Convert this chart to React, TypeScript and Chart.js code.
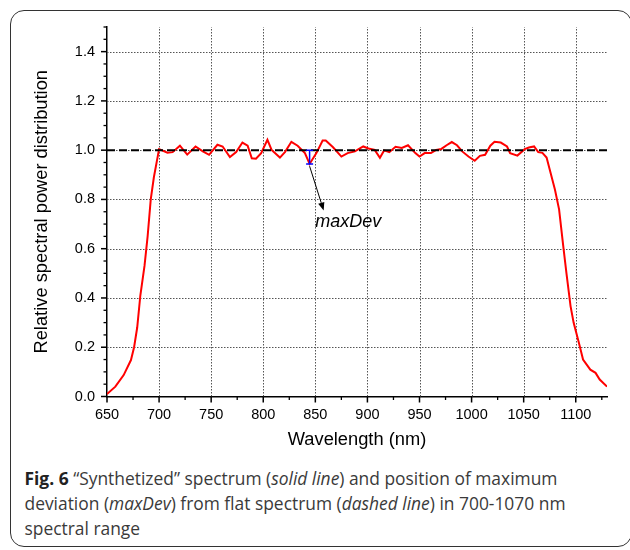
import React, { useEffect, useRef } from "react";
import { Chart, registerables } from "chart.js";

Chart.register(...registerables);

// ---- data ----
const wavelengths = [
  650, 658, 666, 673, 676, 679, 682, 686, 689, 692, 695, 700,
  708, 713, 720, 727, 735, 742, 748, 756, 761, 768, 774, 780, 785, 789, 793, 798,
  804, 808, 816, 821, 827, 833, 840, 844.5, 851, 857, 860, 867, 875, 881, 888, 896,
  901, 907, 912, 916, 921, 927, 933, 939, 946, 950, 955, 961, 966, 971, 976, 981,
  986, 991, 997, 1003, 1008, 1013, 1018, 1022, 1028, 1034, 1037, 1044, 1051, 1055,
  1060, 1064, 1068, 1072, 1075, 1080, 1084, 1088, 1091, 1095, 1098, 1103, 1107,
  1114, 1119, 1123, 1130,
];
const spectrum = [
  0.01, 0.04, 0.087, 0.148, 0.2, 0.28, 0.41, 0.53, 0.65, 0.8, 0.89, 1.004,
  0.99, 0.992, 1.018, 0.982, 1.015, 0.995, 0.981, 1.022, 1.015, 0.972, 0.992, 1.031, 1.018, 0.967, 0.965, 0.988,
  1.042, 1.001, 0.97, 0.993, 1.034, 1.018, 0.988, 0.944, 0.988, 1.039, 1.039, 1.012, 0.974, 0.988, 0.995, 1.015,
  1.007, 1.001, 0.969, 0.999, 0.992, 1.014, 1.009, 1.02, 0.988, 0.974, 0.988, 0.988, 1.001, 1.005, 1.02, 1.033,
  1.02, 0.995, 0.974, 0.957, 0.977, 0.981, 1.018, 1.034, 1.031, 1.015, 0.988, 0.978, 1.004, 1.011,
  1.015, 0.992, 0.989, 0.97, 0.922, 0.84, 0.76, 0.61, 0.503, 0.367, 0.299, 0.218, 0.15,
  0.109, 0.096, 0.069, 0.04,
];
const flatWavelengths = [650, 1130];
const flatLevel = [1.0, 1.0];
const maxDevWavelength = [844.5, 844.5];
const maxDevValues = [1.0, 0.944];
const arrowFrom = [844.5, 0.935];
const arrowTo = [858, 0.755];
const maxDevLabel = "maxDev";
const maxDevLabelAt = [881.5, 0.689];

const xMajorTicks = [650, 700, 750, 800, 850, 900, 950, 1000, 1050, 1100];
const xMinorTicks = [675, 725, 775, 825, 875, 925, 975, 1025, 1075, 1125];
const yMajorTicks = [0, 0.2, 0.4, 0.6, 0.8, 1.0, 1.2, 1.4];
const yMinorTicks = [
  0.05, 0.1, 0.15, 0.25, 0.3, 0.35, 0.45, 0.5, 0.55, 0.65, 0.7, 0.75, 0.85, 0.9, 0.95,
  1.05, 1.1, 1.15, 1.25, 1.3, 1.35, 1.45, 1.5,
];

const X_TITLE = "Wavelength (nm)";
const Y_TITLE = "Relative spectral power distribution";

const FONT = "'Liberation Sans', Arial, sans-serif";

const gridPlugin = {
  id: "dottedGrid",
  beforeDatasetsDraw(chart: any) {
    const { ctx, scales, chartArea } = chart;
    const xs = scales.x;
    const ys = scales.y;
    ctx.save();
    ctx.strokeStyle = "#555555";
    ctx.lineWidth = 1;
    ctx.setLineDash([1.5, 1.5]);
    for (const v of xMajorTicks) {
      if (v === xs.min) continue;
      const px = Math.round(xs.getPixelForValue(v)) + 0.5;
      ctx.beginPath();
      ctx.moveTo(px, chartArea.bottom);
      ctx.lineTo(px, chartArea.top);
      ctx.stroke();
    }
    for (const v of yMajorTicks) {
      if (v === ys.min) continue;
      const py = Math.round(ys.getPixelForValue(v)) + 0.5;
      ctx.beginPath();
      ctx.moveTo(chartArea.left, py);
      ctx.lineTo(chartArea.right, py);
      ctx.stroke();
    }
    ctx.restore();
  },
};

const decorPlugin = {
  id: "decor",
  afterDraw(chart: any) {
    const { ctx, scales } = chart;
    const xs = scales.x;
    const ys = scales.y;
    const axisY = ys.getPixelForValue(0);
    const axisX = xs.getPixelForValue(650);
    ctx.save();
    ctx.strokeStyle = "#000";
    // major ticks
    ctx.lineWidth = 1.5;
    for (const v of xMajorTicks) {
      const px = xs.getPixelForValue(v);
      ctx.beginPath();
      ctx.moveTo(px, axisY);
      ctx.lineTo(px, axisY + 6);
      ctx.stroke();
    }
    for (const v of yMajorTicks) {
      const py = ys.getPixelForValue(v);
      ctx.beginPath();
      ctx.moveTo(axisX, py);
      ctx.lineTo(axisX - 6, py);
      ctx.stroke();
    }
    // minor ticks
    ctx.lineWidth = 1.3;
    for (const v of xMinorTicks) {
      const px = xs.getPixelForValue(v);
      ctx.beginPath();
      ctx.moveTo(px, axisY);
      ctx.lineTo(px, axisY + 3.5);
      ctx.stroke();
    }
    for (const v of yMinorTicks) {
      const py = ys.getPixelForValue(v);
      ctx.beginPath();
      ctx.moveTo(axisX, py);
      ctx.lineTo(axisX - 3.5, py);
      ctx.stroke();
    }
    // arrow
    const x1 = xs.getPixelForValue(arrowFrom[0]);
    const y1 = ys.getPixelForValue(arrowFrom[1]);
    const x2 = xs.getPixelForValue(arrowTo[0]);
    const y2 = ys.getPixelForValue(arrowTo[1]);
    const ang = Math.atan2(y2 - y1, x2 - x1);
    const headLen = 8;
    const headW = 3.2;
    const bx = x2 - headLen * Math.cos(ang);
    const by = y2 - headLen * Math.sin(ang);
    ctx.lineWidth = 1;
    ctx.beginPath();
    ctx.moveTo(x1, y1);
    ctx.lineTo(bx, by);
    ctx.stroke();
    ctx.fillStyle = "#000";
    ctx.beginPath();
    ctx.moveTo(x2, y2);
    ctx.lineTo(bx + headW * Math.sin(ang), by - headW * Math.cos(ang));
    ctx.lineTo(bx - headW * Math.sin(ang), by + headW * Math.cos(ang));
    ctx.closePath();
    ctx.fill();
    // label
    ctx.font = "italic 18px " + FONT;
    ctx.textAlign = "center";
    ctx.textBaseline = "alphabetic";
    ctx.fillText(
      maxDevLabel,
      xs.getPixelForValue(maxDevLabelAt[0]),
      ys.getPixelForValue(maxDevLabelAt[1])
    );
    ctx.restore();
  },
};

function ChartView() {
  const ref = useRef<HTMLCanvasElement | null>(null);
  useEffect(() => {
    if (!ref.current) return;
    const chart = new Chart(ref.current, {
      type: "scatter",
      data: {
        datasets: [
          {
            data: wavelengths.map((w, i) => ({ x: w, y: spectrum[i] })),
            borderColor: "#ff0000",
            borderWidth: 2,
            showLine: true,
            pointRadius: 0,
            order: 2,
          } as any,
          {
            data: flatWavelengths.map((w, i) => ({ x: w, y: flatLevel[i] })),
            borderColor: "#000000",
            borderWidth: 2,
            borderDash: [8, 4],
            showLine: true,
            pointRadius: 0,
            order: 1,
          } as any,
          {
            data: maxDevWavelength.map((w, i) => ({ x: w, y: maxDevValues[i] })),
            borderColor: "#0000ff",
            borderWidth: 1.5,
            showLine: true,
            pointStyle: "line",
            pointRadius: 3.5,
            pointBorderColor: "#0000ff",
            pointBorderWidth: 1.5,
            order: 0,
          } as any,
        ],
      },
      options: {
        animation: false,
        responsive: false,
        maintainAspectRatio: false,
        devicePixelRatio: 1,
        events: [],
        layout: { padding: { left: 0, top: 27, right: 23, bottom: 0 } },
        plugins: { legend: { display: false }, tooltip: { enabled: false } },
        scales: {
          x: {
            type: "linear",
            min: 650,
            max: 1130,
            afterBuildTicks: (s: any) => {
              s.ticks = xMajorTicks.map((v) => ({ value: v }));
            },
            afterFit: (s: any) => {
              s.height = 63.5;
            },
            ticks: {
              autoSkip: false,
              maxRotation: 0,
              padding: 4,
              color: "#000",
              font: { family: FONT, size: 14.5 },
              callback: (v: any) => String(v),
            },
            grid: {
              display: true,
              drawOnChartArea: false,
              drawTicks: true,
              tickLength: 6,
              color: "rgba(0,0,0,0)",
              tickColor: "rgba(0,0,0,0)",
            },
            border: { display: true, color: "#000", width: 1.5 },
            title: {
              display: true,
              text: X_TITLE,
              color: "#000",
              font: { family: FONT, size: 18.3 },
              padding: { top: 0, bottom: 9 },
            },
          } as any,
          y: {
            type: "linear",
            min: 0,
            max: 1.5,
            afterBuildTicks: (s: any) => {
              s.ticks = yMajorTicks.map((v) => ({ value: v }));
            },
            afterFit: (s: any) => {
              s.width = 107;
            },
            ticks: {
              padding: 6,
              color: "#000",
              font: { family: FONT, size: 14.5 },
              callback: (v: any) => Number(v).toFixed(1),
            },
            grid: {
              display: true,
              drawOnChartArea: false,
              drawTicks: true,
              tickLength: 6,
              color: "rgba(0,0,0,0)",
              tickColor: "rgba(0,0,0,0)",
            },
            border: { display: true, color: "#000", width: 1.5 },
            title: {
              display: true,
              text: Y_TITLE,
              color: "#000",
              font: { family: FONT, size: 18.3 },
              padding: { top: 31, bottom: 0 },
            },
          } as any,
        },
      },
      plugins: [gridPlugin, decorPlugin],
    });
    return () => chart.destroy();
  }, []);
  return (
    <canvas
      ref={ref}
      width={630}
      height={460}
      style={{ position: "absolute", left: 0, top: 0, width: 630, height: 460, display: "block" }}
    />
  );
}

export default function App() {
  return (
    <div
      style={{
        position: "absolute",
        left: 0,
        top: 0,
        width: 630,
        height: 550,
        overflow: "hidden",
        background: "#fff",
      }}
    >
      <div
        style={{
          position: "absolute",
          left: 10,
          top: 10,
          width: 622,
          height: 537,
          border: "1.5px solid #333",
          borderRadius: 14,
          boxSizing: "border-box",
        }}
      />
      <ChartView />
      <div
        style={{
          position: "absolute",
          left: 24.5,
          top: 465.75,
          width: 600,
          fontFamily: "'Open Sans', sans-serif",
          fontSize: 17.4,
          lineHeight: "25px",
          color: "#3a3a3a",
          whiteSpace: "nowrap",
        }}
      >
        <b style={{ color: "#222" }}>Fig. 6</b> “Synthetized” spectrum (<i>solid line</i>) and position of maximum
        <br />
        deviation (<i>maxDev</i>) from flat spectrum (<i>dashed line</i>) in 700-1070 nm
        <br />
        spectral range
      </div>
    </div>
  );
}
